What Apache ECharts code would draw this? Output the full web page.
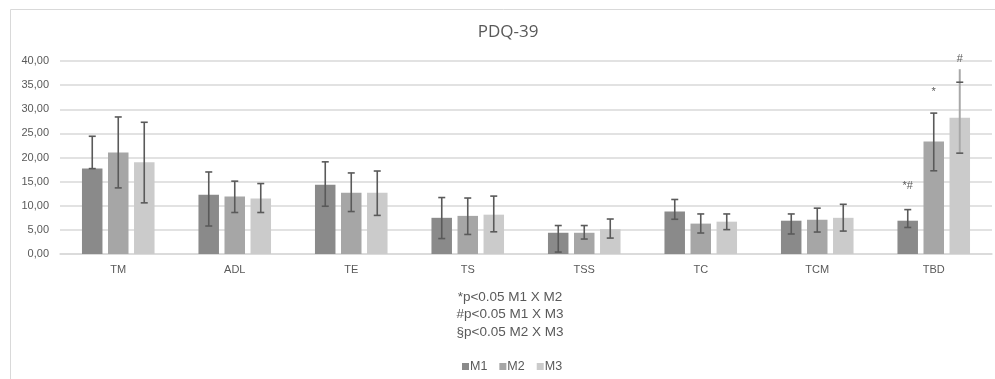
<!DOCTYPE html>
<html>
<head>
<meta charset="utf-8">
<script src="https://cdn.jsdelivr.net/npm/echarts@6/dist/echarts.min.js"></script>
<style>html,body{margin:0;padding:0;background:#fff;}#c{width:995px;height:379px;}</style>
</head>
<body>
<div id="c"></div>
<script>
// ---- data ----
const categories = ['TM', 'ADL', 'TE', 'TS', 'TSS', 'TC', 'TCM', 'TBD'];
const seriesNames = ['M1', 'M2', 'M3'];
const m1 = [17.7, 12.3, 14.35, 7.5, 4.4, 8.8, 6.9, 6.9];
const m1Hi = [24.4, 17.0, 19.1, 11.7, 5.9, 11.3, 8.3, 9.2];
const m1Lo = [17.7, 5.8, 9.9, 3.2, 0.4, 7.2, 4.15, 5.5];
const m2 = [21.05, 11.9, 12.7, 7.9, 4.4, 6.3, 7.1, 23.3];
const m2Hi = [28.4, 15.1, 16.8, 11.6, 5.9, 8.3, 9.5, 29.2];
const m2Lo = [13.7, 8.6, 8.8, 4.05, 3.1, 4.35, 4.55, 17.25];
const m3 = [19.0, 11.5, 12.7, 8.15, 5.15, 6.7, 7.5, 28.25];
const m3Hi = [27.3, 14.6, 17.2, 12.0, 7.25, 8.3, 10.3, 35.6];
const m3Lo = [10.6, 8.6, 8.0, 4.6, 3.3, 5.05, 4.75, 20.9];
const m3Ext = [null, null, null, null, null, null, null, 38.3];
// significance marks: [category index, series index, y value, text]
const marks = [[7, 0, 14.15, '*#'], [7, 1, 33.5, '*'], [7, 2, 40.4, '#']];
const footnotes = ['*p<0.05 M1 X M2', '#p<0.05 M1 X M3', '§p<0.05 M2 X M3'];
const yTicks = [0, 5, 10, 15, 20, 25, 30, 35, 40];

// ---- chart ----
const colors = ['#8a8a8a', '#a6a6a6', '#cbcbcb'];
const vals = [m1, m2, m3], his = [m1Hi, m2Hi, m3Hi], los = [m1Lo, m2Lo, m3Lo];
const errData = [];
for (let s = 0; s < 3; s++) for (let i = 0; i < categories.length; i++) {
  errData.push([i, s, los[s][i], his[s][i], s === 2 ? m3Ext[i] : null]);
}
const OFF = 26, CAP = 3.5;
const font = 'Liberation Sans';
const txt = '#595959';

const chart = echarts.init(document.getElementById('c'), null, {renderer: 'canvas'});
chart.setOption({
  animation: false,
  textStyle: {fontFamily: font},
  grid: {left: 60, right: 3, top: 61, height: 193, containLabel: false},
  graphic: [
    {type: 'rect', shape: {x: 10.5, y: 9.5, width: 1000, height: 400}, style: {fill: 'none', stroke: '#d9d9d9', lineWidth: 1}, z: -10},
    {type: 'text', x: 508, y: 32, style: {text: 'PDQ-39', fill: txt, font: '17px "Open Sans"', textAlign: 'center', textVerticalAlign: 'middle'}},
    {type: 'text', x: 510, y: 297, style: {text: footnotes[0], fill: txt, font: '13.5px "Liberation Sans"', textAlign: 'center', textVerticalAlign: 'middle'}},
    {type: 'text', x: 510, y: 314.5, style: {text: footnotes[1], fill: txt, font: '13.5px "Liberation Sans"', textAlign: 'center', textVerticalAlign: 'middle'}},
    {type: 'text', x: 510, y: 332, style: {text: footnotes[2], fill: txt, font: '13.5px "Liberation Sans"', textAlign: 'center', textVerticalAlign: 'middle'}}
  ],
  legend: {
    data: seriesNames, left: 457, top: 355, itemWidth: 7, itemHeight: 7, itemGap: 12,
    icon: 'rect', textStyle: {color: txt, fontSize: 12.5, fontFamily: font, padding: [0, 0, 0, -4]}
  },
  xAxis: {
    type: 'category', data: categories,
    axisLine: {lineStyle: {color: '#d9d9d9', width: 1.5}},
    axisTick: {show: false},
    axisLabel: {color: txt, fontSize: 11, margin: 10, fontFamily: font}
  },
  yAxis: {
    type: 'value', min: 0, max: 40, interval: 5,
    axisLine: {show: false}, axisTick: {show: false},
    splitLine: {lineStyle: {color: '#d9d9d9', width: 1.5}},
    axisLabel: {color: txt, fontSize: 11, margin: 11, fontFamily: font,
      formatter: v => yTicks.includes(v) ? v.toFixed(2).replace('.', ',') : ''}
  },
  series: [
    ...seriesNames.map((n, s) => ({
      name: n, type: 'bar', data: vals[s], barWidth: 20.5, barGap: '27%',
      itemStyle: {color: colors[s]}
    })),
    {
      type: 'custom', data: errData, z: 10, silent: true,
      renderItem: function (params, api) {
        const i = api.value(0), s = api.value(1);
        const cx = api.coord([i, 0])[0] + (s - 1) * OFF;
        const yLo = api.coord([i, api.value(2)])[1];
        const yHi = api.coord([i, api.value(3)])[1];
        const ext = api.value(4);
        const light = ext != null && !isNaN(ext);
        const st = {stroke: '#5a5a5a', lineWidth: 1.6};
        const children = [];
        if (light) {
          const yE = api.coord([i, ext])[1];
          children.push({type: 'line', shape: {x1: cx, y1: yE, x2: cx, y2: yLo}, style: {stroke: '#a8a8a8', lineWidth: 2}});
        } else {
          children.push({type: 'line', shape: {x1: cx, y1: yHi, x2: cx, y2: yLo}, style: st});
        }
        children.push({type: 'line', shape: {x1: cx - CAP, y1: yHi, x2: cx + CAP, y2: yHi}, style: st});
        children.push({type: 'line', shape: {x1: cx - CAP, y1: yLo, x2: cx + CAP, y2: yLo}, style: st});
        return {type: 'group', children: children};
      }
    },
    {
      type: 'custom', data: marks.map(m => [m[0], m[1], m[2]]), z: 11, silent: true,
      renderItem: function (params, api) {
        const i = api.value(0), s = api.value(1);
        const cx = api.coord([i, 0])[0] + (s - 1) * OFF;
        const y = api.coord([i, api.value(2)])[1];
        return {type: 'text', x: cx, y: y, style: {text: marks[params.dataIndex][3], fill: txt, font: '11px "Liberation Sans"', textAlign: 'center', textVerticalAlign: 'middle'}};
      }
    }
  ]
});
</script>
</body>
</html>
